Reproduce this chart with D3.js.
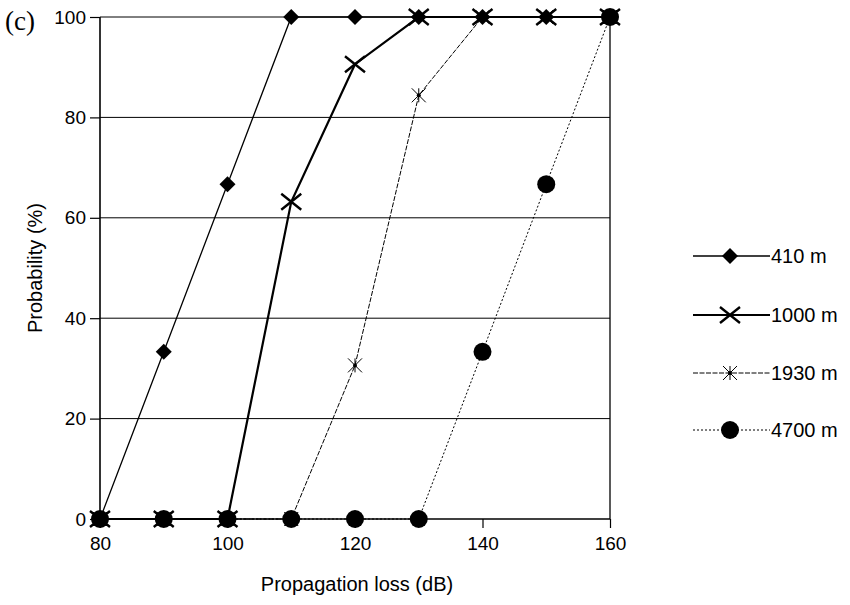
<!DOCTYPE html>
<html><head><meta charset="utf-8">
<script src="https://cdn.jsdelivr.net/npm/d3@7"></script>
<style>body{margin:0;background:#fff}svg{display:block}text{font-family:"Liberation Sans",Arial,sans-serif;fill:#000}</style>
</head><body><svg id="c" width="850" height="605"></svg>
<script>
const lossDb = [80, 90, 100, 110, 120, 130, 140, 150, 160];
const s410 = [0, 33.3, 66.7, 100, 100, 100, 100, 100, 100];
const s1000 = [0, 0, 0, 63.2, 90.6, 100, 100, 100, 100];
const s1930 = [0, 0, 0, 0, 30.6, 84.4, 100, 100, 100];
const s4700 = [0, 0, 0, 0, 0, 0, 33.3, 66.7, 100];
const seriesNames = ["410 m", "1000 m", "1930 m", "4700 m"];
const xTicks = [80, 100, 120, 140, 160];
const yTicks = [0, 20, 40, 60, 80, 100];

const svg = d3.select("#c");
const x = d3.scaleLinear().domain([80, 160]).range([100, 610]);
const y = d3.scaleLinear().domain([0, 100]).range([519, 17]);

// gridlines
svg.append("g").selectAll("line").data(yTicks.filter(d => d > 0)).join("line")
  .attr("x1", x(80)).attr("x2", x(160)).attr("y1", d => y(d)).attr("y2", d => y(d))
  .attr("stroke", "#000").attr("stroke-width", 1);
// right border
svg.append("line").attr("x1", x(160)).attr("x2", x(160)).attr("y1", y(0)).attr("y2", y(100))
  .attr("stroke", "#000").attr("stroke-width", 1.3);

// axes
const xa = svg.append("g").attr("transform", `translate(0,${y(0)})`)
  .call(d3.axisBottom(x).tickValues(xTicks).tickSize(9).tickPadding(9).tickFormat(d3.format("d")));
const ya = svg.append("g").attr("transform", `translate(${x(80)},0)`)
  .call(d3.axisLeft(y).tickValues(yTicks).tickSize(10).tickPadding(4).tickFormat(d3.format("d")));
[xa, ya].forEach(a => {
  a.select(".domain").attr("stroke", "#000").attr("stroke-width", 1.6);
  a.selectAll(".tick line").attr("stroke", "#000").attr("stroke-width", 1.2);
  a.selectAll(".tick text").attr("font-size", 19).attr("font-family", '"Liberation Sans",Arial,sans-serif').attr("fill", "#000");
});
xa.select(".domain").attr("d", `M${x(80)},0H${x(160)}`);
ya.select(".domain").attr("d", `M0,${y(0)}V${y(100)}`);
xa.selectAll(".tick text").attr("dy", "0.71em");

// labels
svg.append("text").attr("x", 357).attr("y", 591).attr("text-anchor", "middle").attr("font-size", 20).text("Propagation loss (dB)");
svg.append("text").attr("transform", "translate(42,268) rotate(-90)").attr("text-anchor", "middle").attr("font-size", 20).text("Probability (%)");
svg.append("text").attr("x", 5).attr("y", 30).attr("font-size", 27).style("font-family", '"Liberation Serif","Times New Roman",serif').text("(c)");

const styles = [
  {vals: s410, w: 1.3, dash: null, mk: "diamond"},
  {vals: s1000, w: 2.2, dash: null, mk: "x"},
  {vals: s1930, w: 1, dash: "5,1.5", mk: "star"},
  {vals: s4700, w: 1, dash: "2,2", mk: "circle"}
];

function marker(g, kind, cx, cy, scale) {
  const s = scale || 1;
  if (kind === "diamond") {
    const r = 8 * s;
    g.append("path").attr("d", `M${cx},${cy - r}L${cx + r},${cy}L${cx},${cy + r}L${cx - r},${cy}Z`).attr("fill", "#000");
  } else if (kind === "x") {
    const r = 10 * s;
    g.append("path").attr("d", `M${cx - r},${cy - r * 0.8}L${cx + r},${cy + r * 0.8}M${cx - r},${cy + r * 0.8}L${cx + r},${cy - r * 0.8}`)
      .attr("stroke", "#000").attr("stroke-width", 2.4).attr("fill", "none");
  } else if (kind === "star") {
    const r = 7 * s;
    g.append("path").attr("d", `M${cx - r},${cy - r}L${cx + r},${cy + r}M${cx - r},${cy + r}L${cx + r},${cy - r}M${cx},${cy - r}V${cy + r}`)
      .attr("stroke", "#000").attr("stroke-width", 1).attr("fill", "none");
    g.append("circle").attr("cx", cx).attr("cy", cy).attr("r", 2).attr("fill", "#000");
  } else {
    g.append("circle").attr("cx", cx).attr("cy", cy).attr("r", 9 * s).attr("fill", "#000");
  }
}

const line = d3.line().x((d, i) => x(lossDb[i])).y(d => y(d));
styles.forEach(st => {
  const g = svg.append("g");
  g.append("path").datum(st.vals).attr("d", line).attr("fill", "none")
    .attr("stroke", "#000").attr("stroke-width", st.w).attr("stroke-dasharray", st.dash);
  st.vals.forEach((v, i) => marker(g, st.mk, x(lossDb[i]), y(v)));
});

// legend
const legY = [256, 315, 373, 430];
seriesNames.forEach((name, i) => {
  const st = styles[i];
  const g = svg.append("g");
  g.append("line").attr("x1", 693).attr("x2", 770).attr("y1", legY[i]).attr("y2", legY[i])
    .attr("stroke", "#000").attr("stroke-width", st.w).attr("stroke-dasharray", st.dash);
  marker(g, st.mk, 730, legY[i], 1);
  g.append("text").attr("x", 771).attr("y", legY[i]).attr("dy", "0.36em").attr("font-size", 20).text(name);
});
</script></body></html>
